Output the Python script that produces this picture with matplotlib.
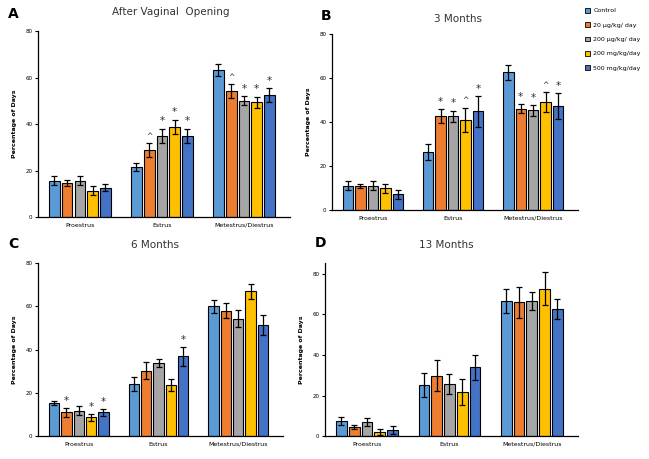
import matplotlib
matplotlib.use('Agg')
import matplotlib.pyplot as plt
from matplotlib.patches import Patch
import numpy as np

stages = ['Proestrus', 'Estrus', 'Metestrus/Diestrus']
groups = ['Control', '20 \u00b5g/kg/ day', '200 \u00b5g/kg/ day', '200 mg/kg/day', '500 mg/kg/day']
colors = ['#5B9BD5', '#ED7D31', '#A5A5A5', '#FFC000', '#4472C4']

# means per group, one list per stage
a_mean = [[15.7, 14.6, 15.7, 11.4, 12.6], [21.4, 28.9, 35.0, 38.9, 35.0], [63.3, 54.0, 50.0, 49.3, 52.3]]
a_err = [[2.0, 1.3, 2.0, 2.0, 1.5], [1.7, 3.0, 3.0, 3.0, 3.0], [2.5, 3.0, 2.0, 2.5, 3.0]]
a_sig = [['', '', '', '', ''], ['', '^', '*', '*', '*'], ['', '^', '*', '*', '*']]

b_mean = [[11.0, 11.0, 11.0, 9.8, 7.2], [26.4, 42.7, 42.7, 41.0, 44.8], [62.6, 46.0, 45.3, 49.0, 47.2]]
b_err = [[2.0, 1.0, 2.0, 2.0, 2.0], [3.5, 3.0, 2.5, 5.5, 7.0], [3.5, 2.0, 2.5, 4.5, 6.0]]
b_sig = [['', '', '', '', ''], ['', '*', '*', '^', '*'], ['', '*', '*', '^', '*']]

c_mean = [[15.4, 11.0, 11.7, 8.6, 11.0], [24.1, 30.3, 33.7, 23.6, 36.8], [59.9, 58.0, 54.2, 66.9, 51.4]]
c_err = [[1.0, 2.0, 2.0, 1.5, 1.5], [3.3, 4.0, 2.0, 3.0, 4.5], [3.0, 3.5, 4.0, 3.5, 4.5]]
c_sig = [['', '*', '', '*', '*'], ['', '', '', '', '*'], ['', '', '', '', '']]

d_mean = [[7.6, 4.3, 7.1, 2.1, 3.0], [25.2, 29.8, 25.8, 21.9, 33.9], [66.7, 66.0, 66.7, 72.8, 62.7]]
d_err = [[2.0, 1.0, 2.0, 1.5, 2.0], [6.0, 7.5, 5.0, 6.5, 6.0], [6.0, 7.5, 4.5, 8.0, 5.0]]
d_sig = [['', '', '', '', ''], ['', '', '', '', ''], ['', '', '', '', '']]

fig = plt.figure(figsize=(6.49, 4.59), dpi=100)


def panel(rect, mean, err, sig, title, letter, ymax, title_xy, letter_xy):
    ax = fig.add_axes(rect)
    x = np.arange(len(stages))
    pitch = 0.155
    width = 0.13
    for i in range(len(groups)):
        xs = x + (i - 2) * pitch
        m = [mean[s][i] for s in range(3)]
        e = [err[s][i] for s in range(3)]
        ax.bar(xs, m, width, color=colors[i], edgecolor='black', linewidth=0.8, zorder=2)
        ax.errorbar(xs, m, yerr=e, fmt='none', ecolor='black', elinewidth=0.9,
                    capsize=2, capthick=0.9, zorder=3)
        for s in range(3):
            if sig[s][i]:
                ax.text(xs[s], m[s] + e[s] + 1.0, sig[s][i], ha='center', va='bottom',
                        fontsize=7.5 if sig[s][i] == '*' else 5.5, color='#333333')
    ax.set_xlim(-0.51, 2.56)
    ax.set_ylim(0, ymax)
    ax.set_yticks([0, 20, 40, 60, 80])
    ax.tick_params(axis='y', labelsize=4, length=2, width=0.8, pad=2)
    ax.set_xticks(x)
    ax.set_xticklabels(stages, fontsize=4.5)
    ax.tick_params(axis='x', length=0, pad=4)
    ax.spines['top'].set_visible(False)
    ax.spines['right'].set_visible(False)
    ax.spines['left'].set_linewidth(0.9)
    ax.spines['bottom'].set_linewidth(0.9)
    ax.set_ylabel('Percentage of Days', fontsize=4.5, fontweight='bold', labelpad=6)
    fig.text(title_xy[0] / 649, 1 - title_xy[1] / 459, title, ha='center', va='center',
             fontsize=7.5, color='#333333')
    fig.text(letter_xy[0] / 649, 1 - letter_xy[1] / 459, letter, ha='center', va='center',
             fontsize=10, fontweight='bold')
    return ax


panel([0.0586, 0.527, 0.388, 0.4055], a_mean, a_err, a_sig, 'After Vaginal  Opening', 'A', 80,
      (171, 12), (13, 14))
panel([0.5116, 0.5425, 0.379, 0.3835], b_mean, b_err, b_sig, '3 Months', 'B', 80,
      (458, 19), (326, 16))
panel([0.0586, 0.050, 0.3774, 0.377], c_mean, c_err, c_sig, '6 Months', 'C', 80,
      (155, 245), (13, 244))
panel([0.5008, 0.050, 0.3898, 0.377], d_mean, d_err, d_sig, '13 Months', 'D', 85.4,
      (446, 245), (321, 243))

handles = [Patch(facecolor=c, edgecolor='black', linewidth=0.6) for c in colors]
fig.legend(handles, groups, loc='upper left', bbox_to_anchor=(0.893, 0.995), frameon=False,
           fontsize=4.5, handlelength=0.8, handleheight=0.8, labelspacing=1.4, handletextpad=0.5)

fig.savefig('out.png', dpi=100)
